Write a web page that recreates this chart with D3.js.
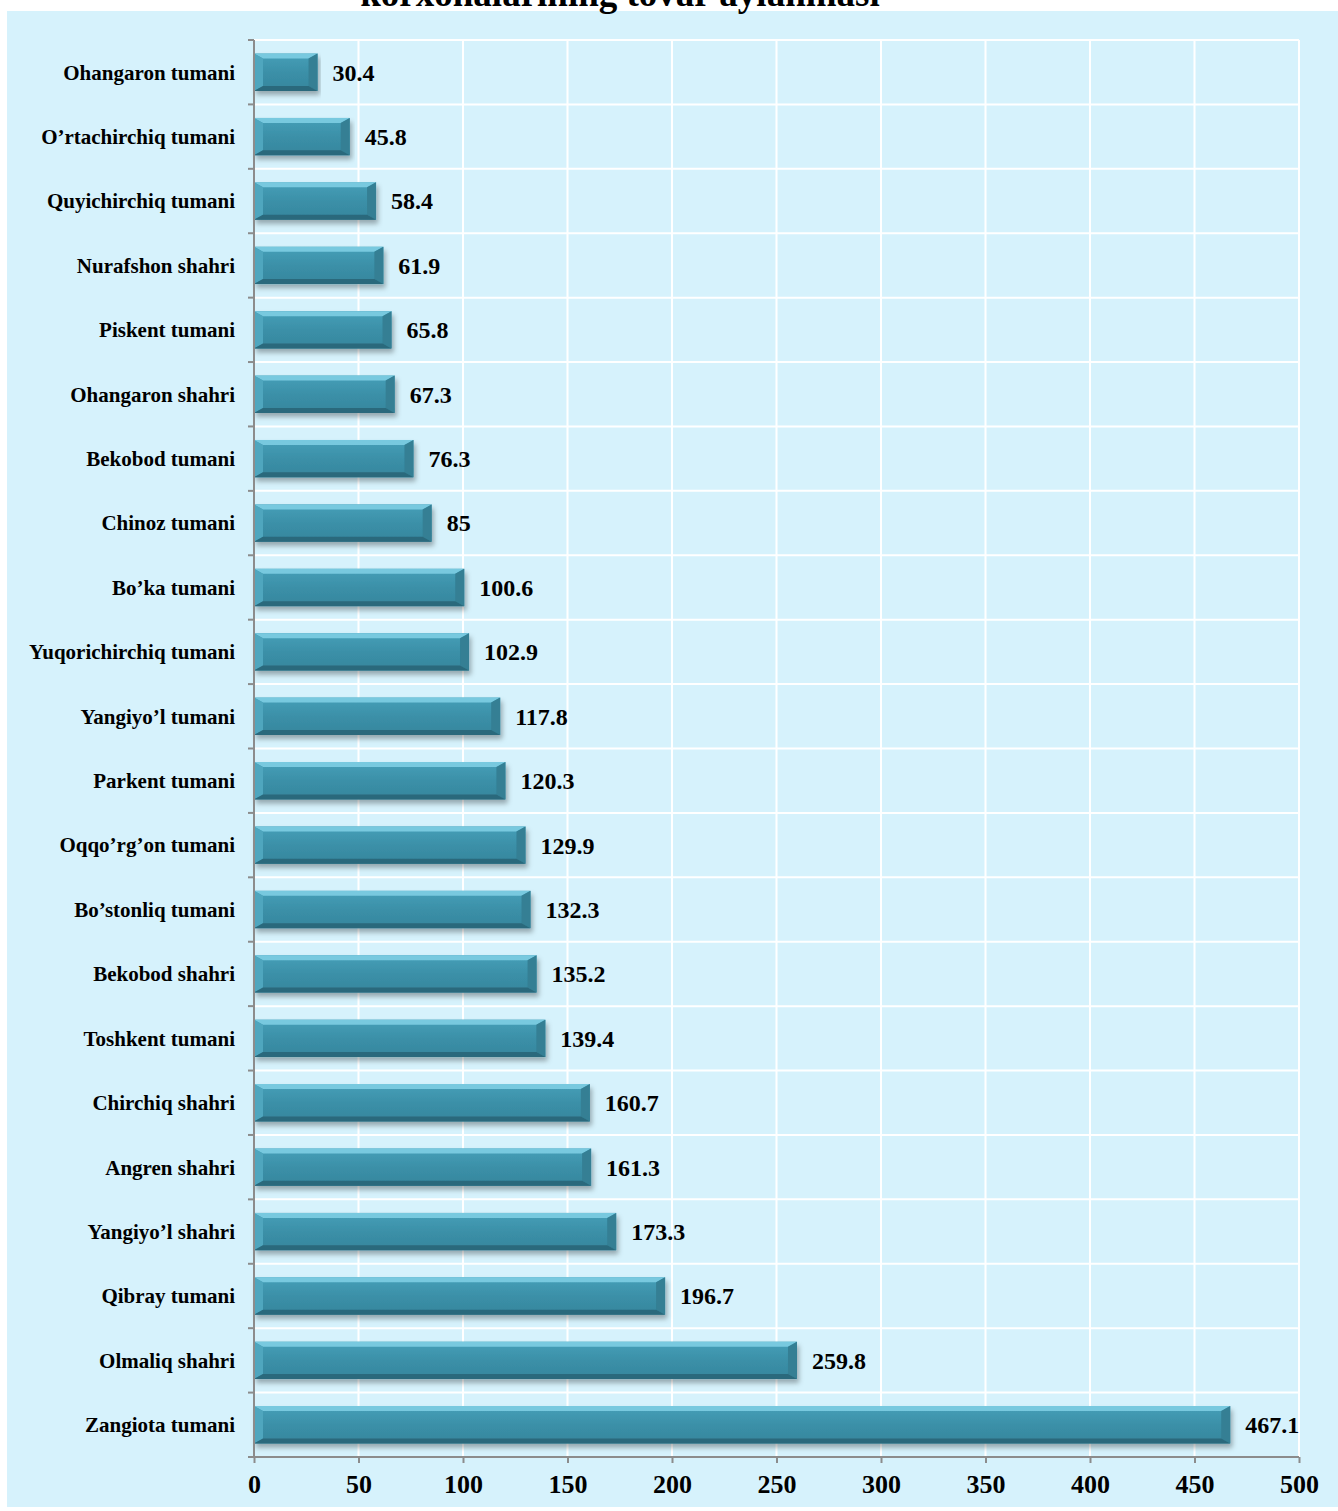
<!DOCTYPE html>
<html>
<head>
<meta charset="utf-8">
<script src="https://cdn.jsdelivr.net/npm/d3@7"></script>
<style>
  body { margin: 0; background: #ffffff; }
  svg text { font-family: "Liberation Serif", "Times New Roman", serif; font-weight: bold; fill: #000; }
</style>
</head>
<body>
<svg id="chart" width="1338" height="1511"></svg>
<script>
// districts, top to bottom as in the picture
var categories = [
    "Ohangaron tumani", "O\u2019rtachirchiq tumani", "Quyichirchiq tumani", "Nurafshon shahri",
    "Piskent tumani", "Ohangaron shahri", "Bekobod tumani", "Chinoz  tumani",
    "Bo\u2019ka tumani", "Yuqorichirchiq tumani", "Yangiyo\u2019l  tumani", "Parkent tumani",
    "Oqqo\u2019rg\u2019on tumani", "Bo\u2019stonliq tumani", "Bekobod shahri", "Toshkent  tumani",
    "Chirchiq shahri", "Angren shahri", "Yangiyo\u2019l shahri", "Qibray tumani",
    "Olmaliq shahri", "Zangiota tumani"
];
var values = [
    30.4, 45.8, 58.4, 61.9,
    65.8, 67.3, 76.3, 85,
    100.6, 102.9, 117.8, 120.3,
    129.9, 132.3, 135.2, 139.4,
    160.7, 161.3, 173.3, 196.7,
    259.8, 467.1
];
var xTicks = [0, 50, 100, 150, 200, 250, 300, 350, 400, 450, 500];
var titleText = "korxonalarining tovar aylanmasi";

var svg = d3.select("#chart"),
    plotLeft = 254, plotRight = 1299, plotTop = 40, plotBottom = 1457;

var x = d3.scaleLinear().domain([0, 500]).range([plotLeft, plotRight]);
var y = d3.scaleBand().domain(categories).range([plotTop, plotBottom]).paddingInner(0.42).paddingOuter(0.21);
var step = y.step();

// drop shadow for the bars
var defs = svg.append("defs");
var f = defs.append("filter").attr("id", "barShadow")
    .attr("x", "-5%").attr("y", "-30%").attr("width", "110%").attr("height", "180%");
f.append("feDropShadow").attr("dx", 2).attr("dy", 4).attr("stdDeviation", 2.5)
    .attr("flood-color", "#000").attr("flood-opacity", 0.3);

var face = defs.append("linearGradient").attr("id", "barFace")
    .attr("x1", 0).attr("y1", 0).attr("x2", 0).attr("y2", 1);
face.append("stop").attr("offset", "0%").attr("stop-color", "#479fb8");
face.append("stop").attr("offset", "50%").attr("stop-color", "#3b90a8");
face.append("stop").attr("offset", "100%").attr("stop-color", "#36869d");

// panel
svg.append("rect").attr("x", 7).attr("y", 11).attr("width", 1331).attr("height", 1496)
    .attr("fill", "#d6f2fc");

// title, cut at the top edge like the source
svg.append("text").attr("x", 620).attr("y", 6).attr("text-anchor", "middle")
    .style("font-size", "37px").text(titleText);

// gridlines
svg.append("g").selectAll("line").data(xTicks.slice(1)).join("line")
    .attr("x1", function(d) { return x(d); }).attr("x2", function(d) { return x(d); })
    .attr("y1", plotTop).attr("y2", plotBottom)
    .attr("stroke", "#ffffff").attr("stroke-width", 2);

var bounds = categories.map(function(c) { return y(c) - (step - y.bandwidth()) / 2; });
svg.append("g").selectAll("line").data(bounds).join("line")
    .attr("x1", plotLeft).attr("x2", plotRight)
    .attr("y1", function(d) { return d; }).attr("y2", function(d) { return d; })
    .attr("stroke", "#ffffff").attr("stroke-width", 2);

// bars with a bevel
var bars = svg.append("g").selectAll("g").data(values).join("g")
    .attr("filter", "url(#barShadow)");

bars.each(function(d, i) {
    var g = d3.select(this),
        x0 = x(0), x1 = x(d),
        y0 = y(categories[i]), h = y.bandwidth(), y1 = y0 + h,
        b = Math.min(9, (x1 - x0) / 3), bt = 5;
    g.append("rect").attr("x", x0).attr("y", y0).attr("width", x1 - x0).attr("height", h)
        .attr("fill", "url(#barFace)");
    // top bevel
    g.append("polygon").attr("fill", "#78c9df")
        .attr("points", [[x0, y0], [x1, y0], [x1 - b, y0 + bt], [x0 + b, y0 + bt]].join(" "));
    // left bevel
    g.append("polygon").attr("fill", "#4fa6be")
        .attr("points", [[x0, y0], [x0 + b, y0 + bt], [x0 + b, y1 - bt], [x0, y1]].join(" "));
    // right bevel
    g.append("polygon").attr("fill", "#347f94")
        .attr("points", [[x1, y0], [x1, y1], [x1 - b, y1 - bt], [x1 - b, y0 + bt]].join(" "));
    // bottom bevel
    g.append("polygon").attr("fill", "#2b697b")
        .attr("points", [[x0, y1], [x0 + b, y1 - bt], [x1 - b, y1 - bt], [x1, y1]].join(" "));
});

// value labels
svg.append("g").selectAll("text").data(values).join("text")
    .attr("x", function(d) { return x(d) + 15; })
    .attr("y", function(d, i) { return y(categories[i]) + y.bandwidth() / 2; })
    .attr("dy", "0.35em")
    .style("font-size", "24px")
    .text(function(d) { return d; });

// axes
var yAxis = svg.append("g").attr("transform", "translate(" + plotLeft + ",0)");
yAxis.append("line").attr("x1", 0).attr("x2", 0).attr("y1", plotTop).attr("y2", plotBottom)
    .attr("stroke", "#8c8c8c").attr("stroke-width", 2);
yAxis.selectAll("line.t").data(bounds.concat([plotBottom])).join("line")
    .attr("class", "t")
    .attr("x1", -6).attr("x2", 0)
    .attr("y1", function(d) { return d; }).attr("y2", function(d) { return d; })
    .attr("stroke", "#8c8c8c").attr("stroke-width", 2);
yAxis.selectAll("text").data(categories).join("text")
    .attr("x", -19)
    .attr("y", function(d) { return y(d) + y.bandwidth() / 2; })
    .attr("dy", "0.35em").attr("text-anchor", "end")
    .style("font-size", "21px")
    .text(function(d) { return d; });

var xAxis = svg.append("g").attr("transform", "translate(0," + plotBottom + ")")
    .call(d3.axisBottom(x).tickValues(xTicks).tickSize(6).tickPadding(12).tickFormat(d3.format("d")));
xAxis.select(".domain").attr("stroke", "#8c8c8c").attr("stroke-width", 2)
    .attr("d", "M" + plotLeft + ",0H" + plotRight);
xAxis.selectAll(".tick line").attr("stroke", "#8c8c8c").attr("stroke-width", 2);
xAxis.selectAll(".tick text")
    .style("font-family", "'Liberation Serif', 'Times New Roman', serif")
    .style("font-weight", "bold").style("font-size", "26px").attr("fill", "#000");
</script>
</body>
</html>
